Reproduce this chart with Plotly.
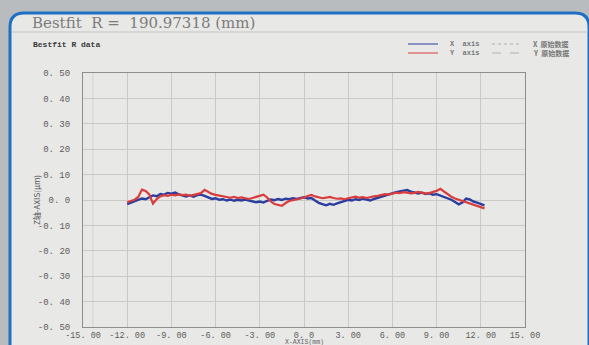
import plotly.graph_objects as go

# ---------------- data ----------------
x_pos = [-12.0, -11.75, -11.5, -11.25, -11.0, -10.75, -10.5, -10.25, -10.0, -9.75,
         -9.5, -9.25, -9.0, -8.75, -8.5, -8.25, -8.0, -7.75, -7.5, -7.25,
         -7.0, -6.75, -6.5, -6.25, -6.0, -5.75, -5.5, -5.25, -5.0, -4.75,
         -4.5, -4.25, -4.0, -3.75, -3.5, -3.25, -3.0, -2.75, -2.5, -2.25,
         -2.0, -1.75, -1.5, -1.25, -1.0, -0.75, -0.5, -0.25, 0.0, 0.25,
         0.5, 0.75, 1.0, 1.25, 1.5, 1.75, 2.0, 2.25, 2.5, 2.75,
         3.0, 3.25, 3.5, 3.75, 4.0, 4.25, 4.5, 4.75, 5.0, 5.25,
         5.5, 5.75, 6.0, 6.25, 6.5, 6.75, 7.0, 7.25, 7.5, 7.75,
         8.0, 8.25, 8.5, 8.75, 9.0, 9.25, 9.5, 9.75, 10.0, 10.25,
         10.5, 10.75, 11.0, 11.25, 11.5, 11.75, 12.0, 12.25]

x_axis_vals = [-0.016, -0.010, -0.004, 0.002, 0.006, 0.003, 0.012, 0.018, 0.015, 0.024,
               0.021, 0.028, 0.025, 0.029, 0.022, 0.018, 0.014, 0.018, 0.013, 0.019,
               0.021, 0.016, 0.011, 0.004, 0.007, 0.001, 0.003, -0.002, 0.002, -0.003,
               0.001, -0.002, 0.002, -0.001, -0.004, -0.009, -0.006, -0.010, -0.003, 0.002,
               -0.001, 0.004, 0.000, 0.005, 0.003, 0.007, 0.004, 0.009, 0.011, 0.006,
               0.008, -0.002, -0.011, -0.016, -0.021, -0.015, -0.019, -0.013, -0.009, -0.004,
               0.001, -0.002, 0.003, 0.000, 0.005, 0.002, -0.002, 0.004, 0.009, 0.014,
               0.019, 0.024, 0.027, 0.031, 0.034, 0.037, 0.039, 0.033, 0.030, 0.026,
               0.029, 0.024, 0.026, 0.021, 0.023, 0.017, 0.014, 0.006, 0.001, -0.008,
               -0.017, -0.010, 0.006, 0.002, -0.006, -0.010, -0.016, -0.021]

y_axis_vals = [-0.009, -0.004, 0.001, 0.012, 0.041, 0.036, 0.022, -0.014, 0.004, 0.014,
               0.019, 0.016, 0.021, 0.018, 0.022, 0.019, 0.021, 0.016, 0.019, 0.023,
               0.027, 0.040, 0.032, 0.024, 0.020, 0.017, 0.014, 0.011, 0.009, 0.012,
               0.008, 0.010, 0.006, 0.004, 0.008, 0.013, 0.018, 0.021, 0.010, -0.006,
               -0.016, -0.020, -0.023, -0.012, -0.004, -0.001, 0.002, 0.006, 0.010, 0.016,
               0.020, 0.014, 0.011, 0.007, 0.009, 0.012, 0.008, 0.005, 0.006, 0.003,
               0.007, 0.011, 0.013, 0.009, 0.011, 0.008, 0.012, 0.014, 0.016, 0.019,
               0.023, 0.021, 0.026, 0.029, 0.027, 0.031, 0.029, 0.026, 0.028, 0.032,
               0.029, 0.025, 0.027, 0.030, 0.036, 0.044, 0.034, 0.022, 0.013, 0.006,
               0.001, -0.006, -0.010, -0.014, -0.021, -0.024, -0.029, -0.033]

x_ticks = [-15, -12, -9, -6, -3, 0, 3, 6, 9, 12, 15]
x_tick_text = ["-15. 00", "-12. 00", "-9. 00", "-6. 00", "-3. 00", "0. 0",
               "3. 00", "6. 00", "9. 00", "12. 00", "15. 00"]
y_ticks = [-0.5, -0.4, -0.3, -0.2, -0.1, 0.0, 0.1, 0.2, 0.3, 0.4, 0.5]
y_tick_text = ["-0. 50", "-0. 40", "-0. 30", "-0. 20", "-0. 10", "0. 0",
               "0. 10", "0. 20", "0. 30", "0. 40", "0. 50"]

title_text = "Bestfit&nbsp;&nbsp;R =&nbsp;&nbsp;190.97318 (mm)"
subtitle_text = "Bestfit R data"
legend_rows = [("X  axis", "X  原始数据"), ("Y  axis", "Y  原始数据")]

# ---------------- layout helpers ----------------
W, H = 589, 345
L, R, T, B = 83, 525, 73, 327


def px(x):
    return (x - L) / (R - L)


def py(y):
    return (B - y) / (B - T)


BLUE = "#2b3d9e"
RED = "#d83c3c"
MONO = "Liberation Mono, DejaVu Sans Mono, monospace"

fig = go.Figure()
fig.add_trace(go.Scatter(x=x_pos, y=x_axis_vals, mode="lines",
                         line=dict(color=BLUE, width=2.4), showlegend=False))
fig.add_trace(go.Scatter(x=x_pos, y=y_axis_vals, mode="lines",
                         line=dict(color=RED, width=2.2), showlegend=False))

shapes = []
r = 14
pts = (f"M {px(10)},{py(380)} L {px(10)},{py(13 + r)} "
       f"Q {px(10)},{py(13)} {px(10 + r)},{py(13)} "
       f"L {px(589 - r)},{py(13)} Q {px(589)},{py(13)} {px(589)},{py(13 + r)} "
       f"L {px(589)},{py(380)} Z")
shapes.append(dict(type="path", xref="paper", yref="paper", path=pts,
                   fillcolor="#e8e8e6", line=dict(color="#1f6fc4", width=3),
                   layer="below"))
shapes.append(dict(type="line", xref="paper", yref="paper",
                   x0=px(12), x1=px(588), y0=py(32), y1=py(32),
                   line=dict(color="#c4c4c2", width=1), layer="below"))
shapes.append(dict(type="line", xref="paper", yref="paper",
                   x0=px(93), x1=px(93), y0=0, y1=1,
                   line=dict(color="#d2d2d0", width=1), layer="below"))

legend_y = [44, 53]
for yy, col, dash in zip(legend_y, [BLUE, RED], ["dot", "dash"]):
    shapes.append(dict(type="line", xref="paper", yref="paper",
                       x0=px(408), x1=px(438), y0=py(yy), y1=py(yy),
                       line=dict(color=col, width=1)))
    shapes.append(dict(type="line", xref="paper", yref="paper",
                       x0=px(492), x1=px(520), y0=py(yy), y1=py(yy),
                       line=dict(color="#b0b0b0", width=1, dash=dash)))

annotations = [
    dict(text=title_text, x=px(30), y=py(23), xref="paper", yref="paper",
         xanchor="left", yanchor="middle", showarrow=False,
         font=dict(family="DejaVu Serif, Liberation Serif, serif", size=15, color="#7c7c7c")),
    dict(text="<b>" + subtitle_text + "</b>", x=px(31), y=py(44), xref="paper", yref="paper",
         xanchor="left", yanchor="middle", showarrow=False,
         font=dict(family=MONO, size=8, color="#3a3a3a")),
    dict(text="Z轴-AXIS(μm)", x=px(36), y=py(200), xref="paper", yref="paper",
         xanchor="center", yanchor="middle", showarrow=False, textangle=-90,
         font=dict(family="Noto Sans CJK SC, DejaVu Sans", size=8, color="#555")),
    dict(text="X-AXIS(mm)", x=px(304), y=py(342.3), xref="paper", yref="paper",
         xanchor="center", yanchor="middle", showarrow=False,
         font=dict(family=MONO, size=6.5, color="#666")),
]
for (a, b), yy in zip(legend_rows, legend_y):
    annotations.append(dict(text="<b>" + a + "</b>", x=px(448), y=py(yy), xref="paper", yref="paper",
                            xanchor="left", yanchor="middle", showarrow=False,
                            font=dict(family=MONO, size=7, color="#777")))
    annotations.append(dict(text="<b>" + b + "</b>", x=px(531), y=py(yy), xref="paper", yref="paper",
                            xanchor="left", yanchor="middle", showarrow=False,
                            font=dict(family="Noto Sans CJK SC", size=7, color="#777")))

axis_common = dict(showgrid=True, gridcolor="#c9c9c7", gridwidth=1, automargin=False,
                   showline=True, linecolor="#8f8f8d", linewidth=1, mirror=True,
                   zeroline=False, ticks="")

fig.update_layout(
    width=W, height=H,
    margin=dict(l=L, r=W - R, t=T, b=H - B, autoexpand=False),
    paper_bgcolor="#b9bcbe",
    plot_bgcolor="#eaeae8",
    shapes=shapes,
    annotations=annotations,
    xaxis=dict(range=[-15, 15], tickmode="array", tickvals=x_ticks, ticktext=x_tick_text,
               ticklabelstandoff=0, tickfont=dict(family=MONO, size=8.5, color="#5e5e5e"),
               **axis_common),
    yaxis=dict(range=[-0.5, 0.5], tickmode="array", tickvals=y_ticks, ticktext=y_tick_text,
               ticklabelstandoff=10, tickfont=dict(family=MONO, size=9, color="#5e5e5e"),
               **axis_common),
)

fig.write_html("out.html", config={"displayModeBar": False},
               post_script="document.body.style.margin='0';document.body.style.padding='0';")
